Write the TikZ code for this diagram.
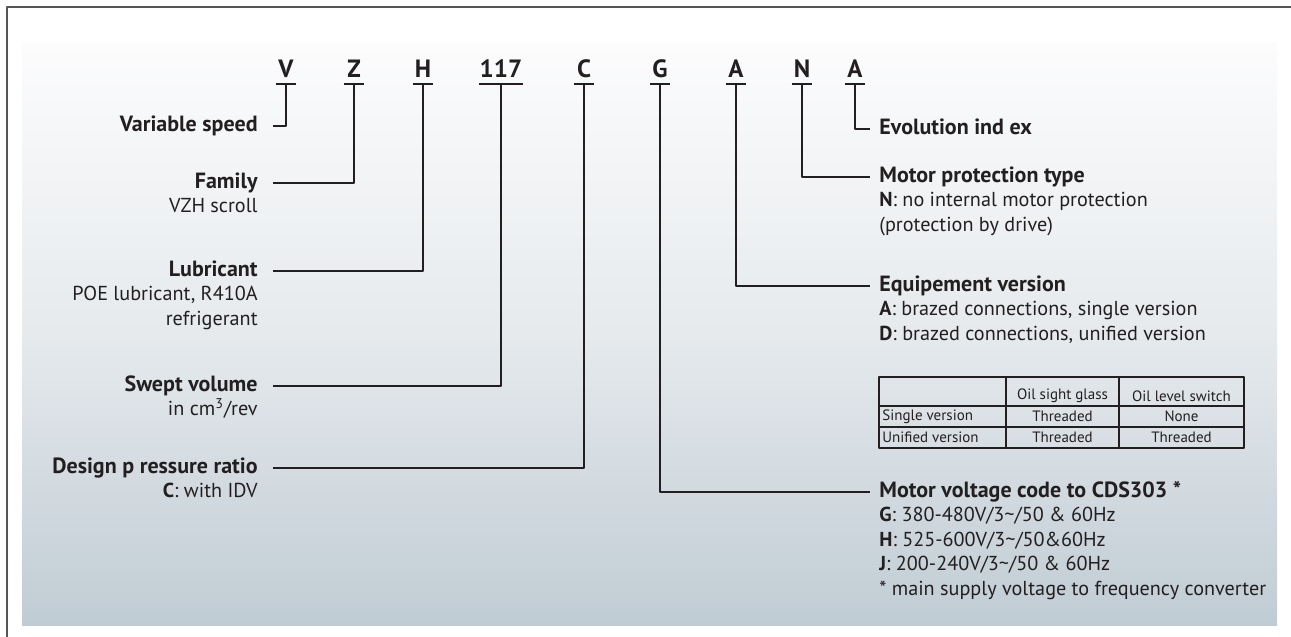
\documentclass[tikz,border=0pt]{standalone}
\usepackage{fontspec}
\setmainfont{PT Sans}
\usetikzlibrary{positioning}
\definecolor{ink}{RGB}{35,31,32}
\definecolor{framegray}{RGB}{85,85,85}
\definecolor{bgtop}{RGB}{252,252,253}
\definecolor{bgmid}{RGB}{230,234,237}
\definecolor{bgbot}{RGB}{192,204,212}
\tikzset{
	code/.style={font=\fontsize{12.5}{14}\selectfont\bfseries, text=ink, anchor=base, inner xsep=0pt, inner ysep=3.5pt, text depth=0pt, minimum width=#1},
	code/.default=10pt,
	ttl/.style={font=\fontsize{11}{12.25}\selectfont\bfseries, text=ink, inner sep=0pt},
	desc/.style={font=\fontsize{10.1}{12.25}\selectfont, text=ink, inner sep=0pt},
	lead/.style={draw=ink, line width=1pt},
	cell/.style={font=\fontsize{7.5}{9}\selectfont, text=ink, inner sep=0pt},
}
\begin{document}
\begin{tikzpicture}[x=0.5pt, y=-0.5pt, line join=round]
		\useasboundingbox (0,0) rectangle (1291,637);
		% background and frame
		\shade[top color=bgtop, bottom color=bgbot, middle color=bgmid] (22,42) rectangle (1277,625);
		\draw[framegray, line width=1pt] (7,637) |- (1291,7);
		% the code letters
		\foreach \nm/\txt/\x/\w in {cV/V/286/10pt, cZ/Z/354/10pt, cH/H/423/10pt, c117/117/501/20.5pt, cC/C/584/10pt, cG/G/660/10pt, cA/A/736/10pt, cN/N/802/10pt, cE/A/855/10pt}{
			\node[code=\w] (\nm) at (\x,77) {\txt};
			\draw[lead] (\nm.south west) -- (\nm.south east);
		}
		% left labels
		\node[ttl, anchor=mid east] (spd) at (258,126) {Variable speed};
		\node[ttl, anchor=mid east] (fam) at (258,183) {Family};
		\node[desc, below=3.675pt of fam.base east, anchor=north east, align=right] (famd) {\strut VZH scroll};
		\node[ttl, anchor=mid east] (lub) at (258,271) {Lubricant};
		\node[desc, below=3.675pt of lub.base east, anchor=north east, align=right] (lubd) {\strut POE lubricant, R410A\\\strut refrigerant};
		\node[ttl, anchor=mid east] (swp) at (258,386) {Swept volume};
		\node[desc, below=3.675pt of swp.base east, anchor=north east, align=right] (swpd) {\strut in cm\textsuperscript{3}/rev};
		\node[ttl, anchor=mid east] (dpr) at (258,468) {Design p ressure ratio};
		\node[desc, below=3.675pt of dpr.base east, anchor=north east, align=right] (dprd) {\strut\textbf{C}: with IDV};
		% right labels
		\node[ttl, anchor=mid west] (evo) at (879,129) {Evolution ind ex};
		\node[ttl, anchor=mid west] (mpt) at (879,177) {Motor protection type};
		\node[desc, below=3.675pt of mpt.base west, anchor=north west, align=left] (mptd) {\strut\textbf{N}: no internal motor protection\\\strut(protection by drive)};
		\node[ttl, anchor=mid west] (eqv) at (879,286) {Equipement version};
		\node[desc, below=3.675pt of eqv.base west, anchor=north west, align=left] (eqvd) {\strut\textbf{A}: brazed connections, single version\\\strut\textbf{D}: brazed connections, unified version};
		\node[ttl, anchor=mid west] (mvc) at (879,492) {Motor voltage code to CDS303 *};
		\node[desc, below=3.675pt of mvc.base west, anchor=north west, align=left] (mvcd) {\strut\textbf{G}: 380-480V/3\textasciitilde/50 \& 60Hz\\\strut\textbf{H}: 525-600V/3\textasciitilde/50\&60Hz\\\strut\textbf{J}: 200-240V/3\textasciitilde/50 \& 60Hz\\\strut* main supply voltage to frequency converter};
		% leads
		\draw[lead, shorten >=7.5pt] (cV.south) |- (spd.mid east);
		\draw[lead, shorten >=7.5pt] (cZ.south) |- (fam.mid east);
		\draw[lead, shorten >=7.5pt] (cH.south) |- (lub.mid east);
		\draw[lead, shorten >=7.5pt] (c117.south) |- (swp.mid east);
		\draw[lead, shorten >=7.5pt] (cC.south) |- (dpr.mid east);
		\draw[lead, shorten >=4.5pt] (cE.south) |- (evo.mid west);
		\draw[lead, shorten >=4.5pt] (cN.south) |- (mpt.mid west);
		\draw[lead, shorten >=4.5pt] (cA.south) |- (eqv.mid west);
		\draw[lead, shorten >=4.5pt] (cG.south) |- (mvc.mid west);
		% version table
		\draw[ink, line width=0.6pt] (879,377) rectangle (1244,448)
		(879,406) -- (1244,406) (879,427) -- (1244,427)
		(1006,377) -- (1006,448) (1119,377) -- (1119,448);
		\foreach \nm/\txt/\x/\y in {hsg/Oil sight glass/1062.5/396, hls/Oil level switch/1181.5/396, sgl/Threaded/1062.5/416.5, sls/None/1181.5/416.5, ugl/Threaded/1062.5/437.5, uls/Threaded/1181.5/437.5}{
			\node[cell] (\nm) at (\x,\y) {\txt};
		}
		\node[cell, anchor=west] (sv) at (882,416.5) {Single version};
		\node[cell, anchor=west] (uv) at (882,437.5) {Unified version};
\end{tikzpicture}
\end{document}
